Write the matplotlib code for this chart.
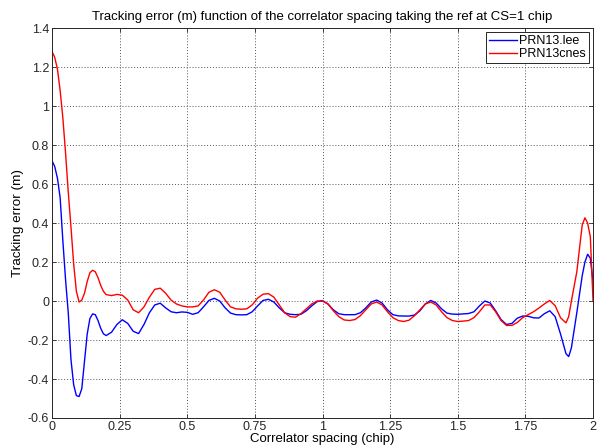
import matplotlib
matplotlib.use("Agg")
import matplotlib.pyplot as plt
from matplotlib.ticker import FuncFormatter

# Correlator spacing (chip)
spacing = [0.00, 0.01, 0.02, 0.03, 0.04, 0.05, 0.06, 0.07, 0.08, 0.09,
           0.10, 0.11, 0.12, 0.13, 0.14, 0.15, 0.16, 0.17, 0.18, 0.19,
           0.20, 0.22, 0.24, 0.26, 0.28, 0.30, 0.32, 0.34, 0.36, 0.38,
           0.40, 0.42, 0.44, 0.46, 0.48, 0.50, 0.52, 0.54, 0.56, 0.58,
           0.60, 0.62, 0.64, 0.66, 0.68, 0.70, 0.72, 0.74, 0.76, 0.78,
           0.80, 0.82, 0.84, 0.86, 0.88, 0.90, 0.92, 0.94, 0.96, 0.98,
           1.00, 1.02, 1.04, 1.06, 1.08, 1.10, 1.12, 1.14, 1.16, 1.18,
           1.20, 1.22, 1.24, 1.26, 1.28, 1.30, 1.32, 1.34, 1.36, 1.38,
           1.40, 1.42, 1.44, 1.46, 1.48, 1.50, 1.52, 1.54, 1.56, 1.58,
           1.60, 1.62, 1.64, 1.66, 1.68, 1.70, 1.72, 1.74, 1.76, 1.78,
           1.80, 1.82, 1.84, 1.86, 1.88, 1.90, 1.91, 1.92, 1.94, 1.96,
           1.97, 1.98, 1.99, 2.00]

prn13_lee = [0.72, 0.69, 0.63, 0.53, 0.31, 0.11, -0.06, -0.30, -0.43, -0.485,
             -0.49, -0.45, -0.31, -0.17, -0.09, -0.066, -0.07, -0.10, -0.14, -0.168,
             -0.177, -0.16, -0.12, -0.096, -0.115, -0.155, -0.167, -0.12, -0.06, -0.02,
             -0.011, -0.035, -0.055, -0.060, -0.056, -0.058, -0.068, -0.060, -0.030, 0.003,
             0.014, 0.000, -0.035, -0.062, -0.070, -0.071, -0.070, -0.055, -0.025, 0.003,
             0.009, -0.005, -0.035, -0.060, -0.068, -0.070, -0.068, -0.050, -0.025, -0.003,
             0.002, -0.015, -0.045, -0.065, -0.070, -0.070, -0.070, -0.060, -0.035, -0.005,
             0.005, -0.010, -0.045, -0.070, -0.076, -0.077, -0.077, -0.072, -0.050, -0.015,
             0.003, -0.010, -0.040, -0.062, -0.067, -0.068, -0.066, -0.064, -0.055, -0.025,
             0.000, -0.010, -0.050, -0.095, -0.120, -0.115, -0.088, -0.077, -0.078, -0.086,
             -0.087, -0.065, -0.050, -0.080, -0.170, -0.270, -0.285, -0.240, -0.060, 0.130,
             0.200, 0.240, 0.220, 0.100]

prn13_cnes = [1.28, 1.25, 1.19, 1.08, 0.94, 0.76, 0.56, 0.38, 0.19, 0.05,
              -0.005, 0.005, 0.04, 0.10, 0.145, 0.158, 0.150, 0.120, 0.080, 0.050,
              0.033, 0.028, 0.034, 0.030, 0.005, -0.045, -0.060, -0.030, 0.020, 0.060,
              0.066, 0.040, 0.005, -0.015, -0.025, -0.030, -0.030, -0.025, 0.005, 0.045,
              0.058, 0.045, 0.005, -0.030, -0.040, -0.042, -0.040, -0.020, 0.015, 0.035,
              0.038, 0.020, -0.020, -0.060, -0.080, -0.083, -0.065, -0.040, -0.015, 0.000,
              0.000, -0.015, -0.050, -0.080, -0.097, -0.100, -0.095, -0.075, -0.045, -0.015,
              -0.005, -0.020, -0.055, -0.085, -0.100, -0.105, -0.098, -0.075, -0.045, -0.015,
              -0.005, -0.020, -0.055, -0.085, -0.100, -0.105, -0.103, -0.100, -0.085, -0.055,
              -0.020, -0.020, -0.055, -0.100, -0.125, -0.125, -0.110, -0.085, -0.070, -0.055,
              -0.036, -0.015, 0.003, -0.024, -0.086, -0.112, -0.080, 0.000, 0.150, 0.390,
              0.427, 0.400, 0.330, 0.000]

x_ticks = [0, 0.25, 0.5, 0.75, 1, 1.25, 1.5, 1.75, 2]
y_ticks = [-0.6, -0.4, -0.2, 0, 0.2, 0.4, 0.6, 0.8, 1, 1.2, 1.4]

plt.rcParams['font.family'] = ['Liberation Sans', 'DejaVu Sans']

fig = plt.figure(figsize=(5.98, 4.45), dpi=100)
ax = fig.add_axes([0.087, 0.0607, 0.9047, 0.876])

ax.plot(spacing, prn13_lee, color=(0, 0, 1), lw=1.0, label='PRN13.lee')
ax.plot(spacing, prn13_cnes, color=(1, 0, 0), lw=1.0, label='PRN13cnes')

ax.set_xlim(0, 2)
ax.set_ylim(-0.6, 1.4)
ax.set_xticks(x_ticks)
ax.set_yticks(y_ticks)
fmt = FuncFormatter(lambda v, p: ('%g' % round(v, 3)))
ax.xaxis.set_major_formatter(fmt)
ax.yaxis.set_major_formatter(fmt)
ax.tick_params(direction='in', length=3, width=0.6, labelsize=9, pad=2,
               top=True, right=True, colors='#262626')
ax.grid(True, color='#555555', linestyle=(0, (1, 2)), linewidth=0.7)
for s in ax.spines.values():
    s.set_linewidth(0.7)
    s.set_color('#262626')

ax.set_title('Tracking error (m) function of the correlator spacing taking the ref at CS=1 chip',
             fontsize=9.5, pad=6)
ax.set_xlabel('Correlator spacing (chip)', fontsize=9.5, labelpad=0)
ax.set_ylabel('Tracking error (m)', fontsize=9.7, labelpad=3)

leg = ax.legend(loc='upper right', fontsize=9, fancybox=False, framealpha=1,
                edgecolor='#262626', borderaxespad=0.3, handlelength=2.2,
                handletextpad=0.2, borderpad=0.25, labelspacing=0.1)
leg.get_frame().set_linewidth(0.7)

fig.savefig('out.png', dpi=100)
